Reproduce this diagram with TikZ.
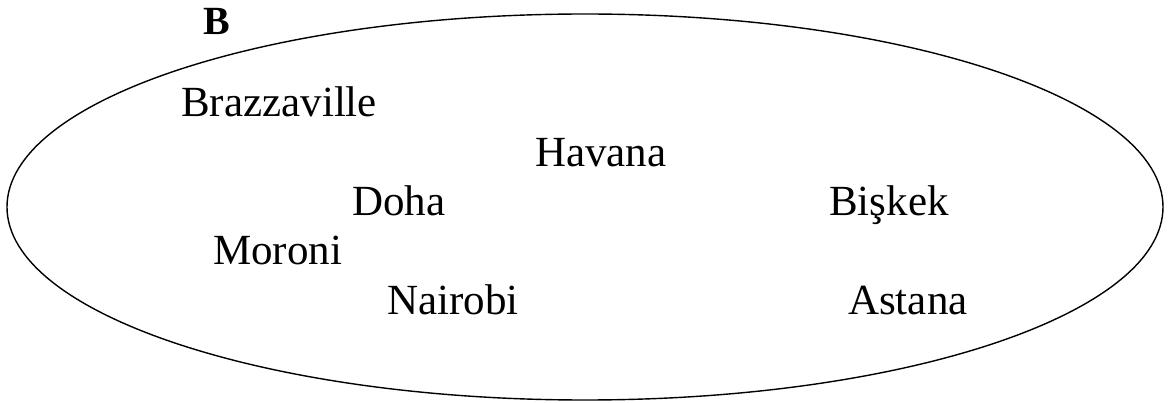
\documentclass[tikz,border=0pt]{standalone}
\usepackage{fontspec}
\setmainfont{Liberation Serif}
\begin{document}
\begin{tikzpicture}[x=1pt,y=-1pt,
  city/.style={anchor=base west,inner sep=0pt,font=\fontsize{43}{43}\selectfont},
  setname/.style={anchor=base west,inner sep=0pt,font=\fontsize{40}{40}\selectfont\bfseries}]
\useasboundingbox (0,0) rectangle (1168,403);
% the set as an ellipse
\draw[line width=1.4pt] (585,207) ellipse [x radius=578, y radius=193];
\node[setname] (setB) at (203,35) {B};
\node[city] (brazzaville) at (181,117) {Brazzaville};
\node[city] (havana) at (535,167) {Havana};
\node[city] (doha) at (352,216) {Doha};
\node[city] (bishkek) at (829,216) {Bişkek};
\node[city] (moroni) at (213,265) {Moroni};
\node[city] (nairobi) at (387,315) {Nairobi};
\node[city] (astana) at (848,315) {Astana};
\end{tikzpicture}
\end{document}
